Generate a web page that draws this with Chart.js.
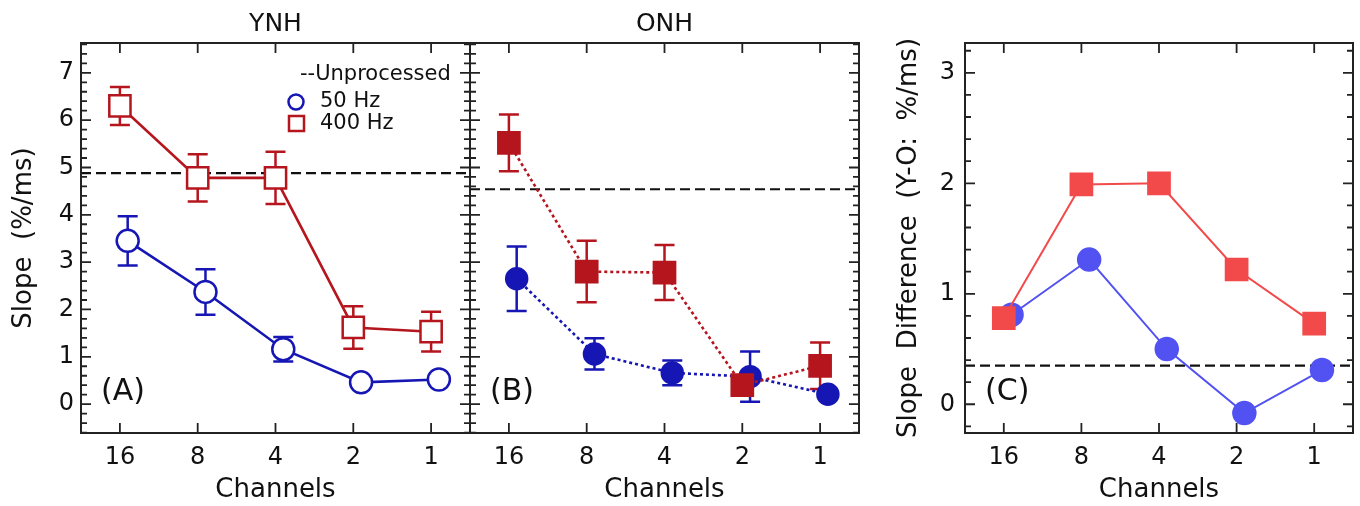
<!DOCTYPE html>
<html>
<head>
<meta charset="utf-8">
<title>Slope vs channels</title>
<script src="https://cdn.jsdelivr.net/npm/chart.js@4.4.0/dist/chart.umd.min.js"></script>
<style>
  html, body { margin: 0; padding: 0; background: #fff; }
  #wrap { position: relative; width: 1360px; height: 506px; overflow: hidden; }
  canvas { position: absolute; top: 0; }
</style>
</head>
<body>
<div id="wrap">
  <canvas id="chartA" width="480" height="506" style="left:0px"></canvas>
  <canvas id="chartB" width="410" height="506" style="left:460px"></canvas>
  <canvas id="chartC" width="480" height="506" style="left:880px"></canvas>
</div>
<script>
// categories and tick labels
const channels = ['16', '8', '4', '2', '1'];
const slopeTicks = [0, 1, 2, 3, 4, 5, 6, 7];
const diffTicks = [0, 1, 2, 3];

// YNH (panel A)
const ynh50 = [3.45, 2.37, 1.16, 0.46, 0.52];
const ynh50Err = [0.52, 0.48, 0.26, 0.08, 0.08];
const ynh400 = [6.30, 4.78, 4.78, 1.62, 1.53];
const ynh400Err = [0.40, 0.50, 0.55, 0.45, 0.42];

// ONH (panel B)
const onh50 = [2.65, 1.06, 0.66, 0.58, 0.21];
const onh50Err = [0.68, 0.33, 0.26, 0.53, 0.08];
const onh400 = [5.52, 2.80, 2.78, 0.40, 0.81];
const onh400Err = [0.60, 0.65, 0.58, 0.08, 0.49];

// Y-O difference (panel C)
const diff50 = [0.81, 1.31, 0.50, -0.08, 0.31];
const diff400 = [0.78, 1.99, 2.00, 1.22, 0.73];

// unprocessed reference lines: YNH, ONH, difference
const unprocessed = [4.88, 4.54, 0.35];

const FONT = 'DejaVu Sans';
const RED = '#b5161e';
const BLUE = '#1616b4';
const LIGHT_RED = '#f24a4a';
const LIGHT_BLUE = '#5252f2';
const SHIFT_50 = 0.1; // 50 Hz markers drawn a bit to the right

Chart.defaults.font.family = FONT;
Chart.defaults.color = '#111';

function pts(values, shift) {
    return values.map((v, i) => ({ x: i + shift, y: v }));
}

function series(values, errs, color, style) {
    return {
        data: pts(values, style.shift || 0),
        errors: errs,
        showLine: true,
        borderColor: color,
        borderWidth: style.lineWidth,
        borderDash: style.dash || [],
        pointStyle: style.point,
        pointRadius: style.point === 'rect' ? 15 : style.radius,
        pointBorderWidth: 2.5,
        pointBorderColor: color,
        pointBackgroundColor: style.filled ? color : '#fff',
        tension: 0
    };
}

function refLine(v) {
    return {
        data: [{ x: -0.5, y: v }, { x: 4.5, y: v }],
        showLine: true,
        borderColor: '#111',
        borderWidth: 2.2,
        borderDash: [10, 5],
        pointRadius: 0
    };
}

// frame, inward ticks, error bars, legend and panel label
const decor = {
    id: 'decor',
    beforeDatasetsDraw(chart) {
        const ctx = chart.ctx;
        const xs = chart.scales.x, ys = chart.scales.y;
        chart.data.datasets.forEach(ds => {
            if (!ds.errors) return;
            ctx.save();
            ctx.strokeStyle = ds.borderColor;
            ctx.lineWidth = 2.5;
            ctx.beginPath();
            ds.data.forEach((p, i) => {
                const x = xs.getPixelForValue(p.x);
                const y1 = ys.getPixelForValue(p.y + ds.errors[i]);
                const y2 = ys.getPixelForValue(p.y - ds.errors[i]);
                ctx.moveTo(x, y1); ctx.lineTo(x, y2);
                ctx.moveTo(x - 10, y1); ctx.lineTo(x + 10, y1);
                ctx.moveTo(x - 10, y2); ctx.lineTo(x + 10, y2);
            });
            ctx.stroke();
            ctx.restore();
        });
    },
    afterDraw(chart, args, o) {
        const ctx = chart.ctx;
        const a = chart.chartArea;
        const xs = chart.scales.x, ys = chart.scales.y;
        ctx.save();
        ctx.strokeStyle = '#222';
        ctx.lineWidth = 2;
        ctx.strokeRect(a.left, a.top, a.right - a.left, a.bottom - a.top);

        ctx.lineWidth = 1.8;
        ctx.beginPath();
        xs.ticks.forEach(t => {
            const x = xs.getPixelForValue(t.value);
            ctx.moveTo(x, a.bottom); ctx.lineTo(x, a.bottom - 10);
            ctx.moveTo(x, a.top); ctx.lineTo(x, a.top + 10);
        });
        const step = o.minorStep;
        for (let k = Math.ceil(ys.min / step); k * step <= ys.max + 1e-9; k++) {
            const v = k * step;
            const major = ys.ticks.some(t => Math.abs(t.value - v) < 1e-6);
            const len = major ? 10 : 6;
            const y = ys.getPixelForValue(v);
            ctx.moveTo(a.left, y); ctx.lineTo(a.left + len, y);
            ctx.moveTo(a.right, y); ctx.lineTo(a.right - len, y);
        }
        ctx.stroke();

        // panel label
        ctx.fillStyle = '#111';
        ctx.font = '30px "' + FONT + '"';
        ctx.textBaseline = 'middle';
        ctx.textAlign = 'left';
        ctx.fillText(o.label, a.left + 20, a.bottom - 41);

        if (o.legend) {
            const lx = a.right - 182;
            ctx.font = '21px "' + FONT + '"';
            ctx.fillText('--Unprocessed', lx + 12, a.top + 32);
            ctx.fillText('50 Hz', lx + 32, a.top + 59);
            ctx.fillText('400 Hz', lx + 32, a.top + 81);
            ctx.lineWidth = 2.5;
            ctx.strokeStyle = BLUE;
            ctx.beginPath();
            ctx.arc(lx + 8, a.top + 59, 7.5, 0, Math.PI * 2);
            ctx.stroke();
            ctx.strokeStyle = RED;
            ctx.strokeRect(lx + 1, a.top + 73, 15, 15);
        }
        ctx.restore();
    }
};

function makeChart(id, cfg) {
    return new Chart(document.getElementById(id), {
        type: 'scatter',
        data: { datasets: cfg.datasets },
        options: {
            responsive: false,
            animation: false,
            devicePixelRatio: 1,
            events: [],
            layout: { padding: cfg.padding, autoPadding: false },
            plugins: {
                legend: { display: false },
                tooltip: { enabled: false },
                title: cfg.title ? {
                    display: true,
                    text: cfg.title,
                    fullSize: false,
                    font: { size: 25, weight: 'normal' },
                    color: '#111',
                    padding: { top: 9, bottom: 4 }
                } : { display: false },
                decor: { minorStep: 0.2, label: cfg.label, legend: !!cfg.legend }
            },
            scales: {
                x: {
                    type: 'linear',
                    min: -0.5,
                    max: 4.5,
                    afterBuildTicks: s => { s.ticks = channels.map((c, i) => ({ value: i })); },
                    afterFit: s => { s.height = 73; s.paddingLeft = 0; s.paddingRight = 0; },
                    ticks: {
                        callback: v => channels[v],
                        autoSkip: false,
                        maxRotation: 0,
                        padding: 10,
                        font: { size: 24 },
                        color: '#111'
                    },
                    grid: { display: false, drawTicks: false },
                    border: { display: false },
                    title: { display: true, text: 'Channels', font: { size: 26 }, color: '#111', padding: 0 }
                },
                y: {
                    display: cfg.yTitle ? true : false,
                    min: cfg.yMin,
                    max: cfg.yMax,
                    afterBuildTicks: s => { s.ticks = cfg.yTicks.map(v => ({ value: v })); },
                    afterFit: s => { s.width = cfg.yWidth; s.paddingTop = 0; s.paddingBottom = 0; },
                    ticks: { padding: cfg.yPad, font: { size: 24 }, color: '#111' },
                    grid: { display: false, drawTicks: false },
                    border: { display: false },
                    title: {
                        display: !!cfg.yTitle,
                        text: cfg.yTitle,
                        font: { size: 26 },
                        color: '#111',
                        padding: { top: cfg.yTitlePad, bottom: 0 }
                    }
                }
            }
        },
        plugins: [decor]
    });
}

const openStyle = { lineWidth: 2.6, radius: 11 };
const dotStyle = { lineWidth: 2.6, radius: 10.5, filled: true, dash: [3, 3] };
const diffStyle = { lineWidth: 2, radius: 11, filled: true };

makeChart('chartA', {
    title: 'YNH',
    label: '(A)',
    legend: true,
    padding: { left: 0, right: 10, top: 0, bottom: 0 },
    yMin: -0.61, yMax: 7.63, yTicks: slopeTicks,
    yWidth: 81, yPad: 7, yTitle: 'Slope  (%/ms)', yTitlePad: 9,
    datasets: [
        series(ynh400, ynh400Err, RED, { ...openStyle, point: 'rect' }),
        series(ynh50, ynh50Err, BLUE, { ...openStyle, point: 'circle', shift: SHIFT_50 }),
        refLine(unprocessed[0])
    ]
});

makeChart('chartB', {
    title: 'ONH',
    label: '(B)',
    padding: { left: 10, right: 11, top: 0, bottom: 0 },
    yMin: -0.61, yMax: 7.63, yTicks: slopeTicks,
    yWidth: 0, yPad: 0,
    datasets: [
        series(onh400, onh400Err, RED, { ...dotStyle, point: 'rect' }),
        series(onh50, onh50Err, BLUE, { ...dotStyle, point: 'circle', shift: SHIFT_50 }),
        refLine(unprocessed[1])
    ]
});

makeChart('chartC', {
    label: '(C)',
    padding: { left: 0, right: 7, top: 43, bottom: 0 },
    yMin: -0.26, yMax: 3.27, yTicks: diffTicks,
    yWidth: 85, yPad: 10, yTitle: 'Slope  Difference  (Y-O:  %/ms)', yTitlePad: 14,
    datasets: [
        series(diff400, null, LIGHT_RED, { ...diffStyle, point: 'rect' }),
        series(diff50, null, LIGHT_BLUE, { ...diffStyle, point: 'circle', shift: SHIFT_50 }),
        refLine(unprocessed[2])
    ]
});
</script>
</body>
</html>
